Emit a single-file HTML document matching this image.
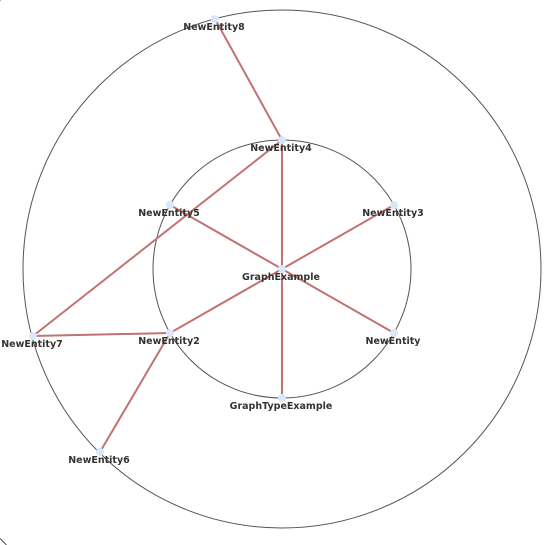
<!DOCTYPE html>
<html><head><meta charset="utf-8"><style>
html,body{margin:0;padding:0;background:#fff;overflow:hidden;width:554px;height:545px;}
svg{display:block;overflow:hidden;}
svg text{font-family:"DejaVu Sans",sans-serif;font-size:9.5px;font-weight:bold;fill:#333;}
</style></head><body>
<svg id="g" width="554" height="545" viewBox="0 0 554 545">
<path d="M 0 538.4 A 390 390 0 0 0 6.5 545" fill="none" stroke="#555" stroke-width="1"/>
<path d="M 0 0 A 390 390 0 0 1 1 0" fill="none" stroke="#555" stroke-width="1"/>
<circle cx="282" cy="269" r="259" fill="none" stroke="#555" stroke-width="1"/>
<circle cx="282" cy="269" r="129" fill="none" stroke="#555" stroke-width="1"/>
</svg>
<script>
const nodeNames=["GraphExample","NewEntity4","NewEntity3","NewEntity","GraphTypeExample","NewEntity2","NewEntity5","NewEntity8","NewEntity7","NewEntity6"];
const nodeX=[282,282,394,394,282,170,170,215,33,100];
const nodeY=[269,140,205,333,398,333,205,19,336,452];
const edgeFrom=[0,0,0,0,0,0,1,1,8,5];
const edgeTo=[1,2,3,4,5,6,7,8,5,9];
const svg=document.getElementById('g');
const NS='http://www.w3.org/2000/svg';
for(let i=0;i<edgeFrom.length;i++){
  const l=document.createElementNS(NS,'line');
  l.setAttribute('x1',nodeX[edgeFrom[i]]);l.setAttribute('y1',nodeY[edgeFrom[i]]);
  l.setAttribute('x2',nodeX[edgeTo[i]]);l.setAttribute('y2',nodeY[edgeTo[i]]);
  l.setAttribute('stroke','#c27272');l.setAttribute('stroke-width','2');
  
  
  svg.appendChild(l);
}
for(let i=0;i<nodeNames.length;i++){
  const c=document.createElementNS(NS,'circle');
  c.setAttribute('cx',nodeX[i]);c.setAttribute('cy',nodeY[i]);c.setAttribute('r','4');
  c.setAttribute('fill','#d6e8fa');
  
  
  svg.appendChild(c);
  const t=document.createElementNS(NS,'text');
  t.setAttribute('x',nodeX[i]-1);t.setAttribute('y',nodeY[i]+11);
  t.setAttribute('text-anchor','middle');
  t.textContent=nodeNames[i];
  
  
  svg.appendChild(t);
}
</script>
</body></html>
